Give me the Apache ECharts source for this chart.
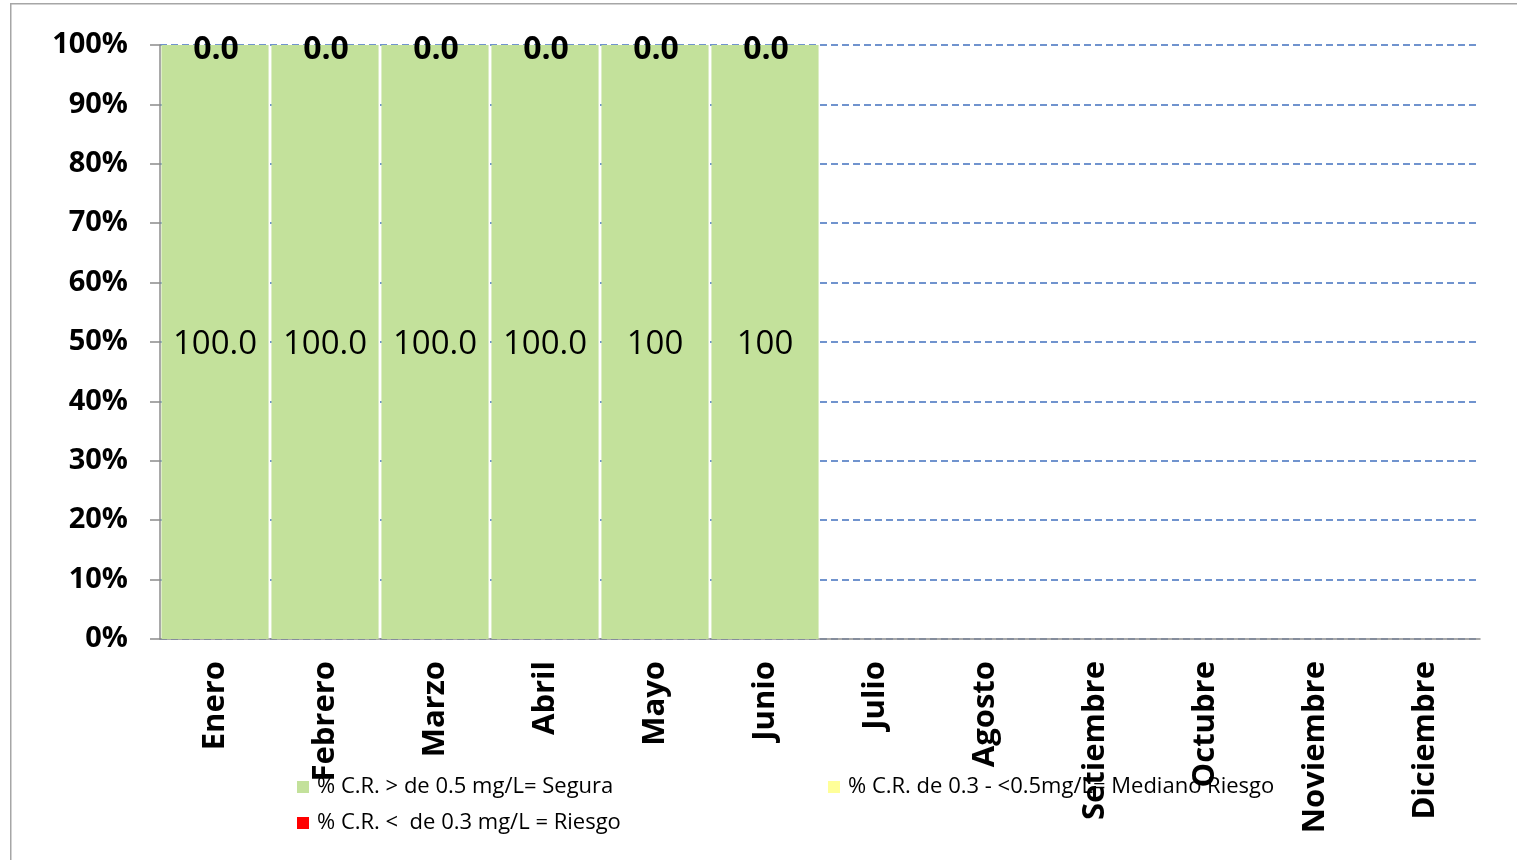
<!DOCTYPE html>
<html>
<head>
<meta charset="utf-8">
<script src="https://cdn.jsdelivr.net/npm/echarts@6/dist/echarts.min.js"></script>
<style>
  html, body { margin: 0; padding: 0; background: #fff; }
  #chart { width: 1517px; height: 860px; }
</style>
</head>
<body>
<div id="chart"></div>
<script>
// Meses del año
const months = ['Enero', 'Febrero', 'Marzo', 'Abril', 'Mayo', 'Junio',
  'Julio', 'Agosto', 'Setiembre', 'Octubre', 'Noviembre', 'Diciembre'];

// Porcentaje de muestras por rango de cloro residual (C.R.)
const segura = [100, 100, 100, 100, 100, 100, '-', '-', '-', '-', '-', '-'];
const medianoRiesgo = [0, 0, 0, 0, 0, 0, '-', '-', '-', '-', '-', '-'];
const riesgo = [0, 0, 0, 0, 0, 0, '-', '-', '-', '-', '-', '-'];

// Decimales mostrados en la etiqueta de cada mes (serie Segura)
const seguraDecimals = [1, 1, 1, 1, 0, 0, 0, 0, 0, 0, 0, 0];

const seriesNames = [
  '% C.R. > de 0.5 mg/L= Segura',
  '% C.R. de 0.3 - <0.5mg/L= Mediano Riesgo',
  '% C.R. <  de 0.3 mg/L = Riesgo'
];
const yTicks = [0, 10, 20, 30, 40, 50, 60, 70, 80, 90, 100];

const FONT = '"Open Sans", sans-serif';
const chart = echarts.init(document.getElementById('chart'), null, { renderer: 'canvas' });

const legendText = { fontFamily: FONT, fontSize: 22, color: '#000', padding: [0, 0, 0, 3] };
const legendBase = {
  icon: 'rect', itemWidth: 12, itemHeight: 12, selectedMode: false,
  textStyle: legendText, padding: 0
};

chart.setOption({
  animation: false,
  backgroundColor: '#fff',
  graphic: [{
    type: 'rect', left: 10, top: 3, z: -10, silent: true,
    shape: { width: 1600, height: 900 },
    style: { fill: '#fff', stroke: '#a6a6a6', lineWidth: 1.5 }
  }],
  grid: { left: 160, right: 37, top: 45, bottom: 221, containLabel: false },
  legend: [
    Object.assign({ data: [seriesNames[0]], left: 297, top: 776 }, legendBase),
    Object.assign({ data: [seriesNames[1]], left: 828, top: 776 }, legendBase),
    Object.assign({ data: [seriesNames[2]], left: 297, top: 812 }, legendBase)
  ],
  xAxis: {
    type: 'category',
    data: months,
    axisLine: { lineStyle: { color: '#8c8c8c', width: 1.5 } },
    axisTick: { length: 12, lineStyle: { color: '#8c8c8c', width: 1.5 } },
    axisLabel: {
      rotate: 90, margin: 22, interval: 0,
      fontFamily: FONT, fontSize: 31, fontWeight: 'bold', color: '#000'
    }
  },
  yAxis: {
    type: 'value', min: yTicks[0], max: yTicks[yTicks.length - 1], interval: 10,
    axisLine: { show: true, lineStyle: { color: '#8c8c8c', width: 1.5 } },
    axisTick: { show: true, length: 10, lineStyle: { color: '#8c8c8c', width: 1.5 } },
    axisLabel: {
      margin: 32, formatter: '{value}%',
      fontFamily: FONT, fontSize: 29, fontWeight: 'bold', color: '#000'
    },
    splitLine: { show: true, lineStyle: { color: '#4170BE', type: [7, 4], width: 1.5 } }
  },
  series: [
    {
      name: seriesNames[0], type: 'bar', stack: 'cr', data: segura,
      barCategoryGap: '2.6%',
      itemStyle: { color: '#C3E19B' },
      label: {
        show: true, position: 'inside', offset: [0, 3],
        fontFamily: FONT, fontSize: 33, color: '#000',
        formatter: p => Number(p.value).toFixed(seguraDecimals[p.dataIndex])
      }
    },
    {
      name: seriesNames[1], type: 'bar', stack: 'cr', data: medianoRiesgo,
      itemStyle: { color: '#FFFF99' },
      label: {
        show: true, position: 'inside', offset: [1, 5],
        fontFamily: FONT, fontSize: 32, fontWeight: 'bold', color: '#000',
        formatter: p => Number(p.value).toFixed(1)
      }
    },
    {
      name: seriesNames[2], type: 'bar', stack: 'cr', data: riesgo,
      itemStyle: { color: '#FF0000' },
      label: { show: false }
    }
  ]
});
</script>
</body>
</html>
